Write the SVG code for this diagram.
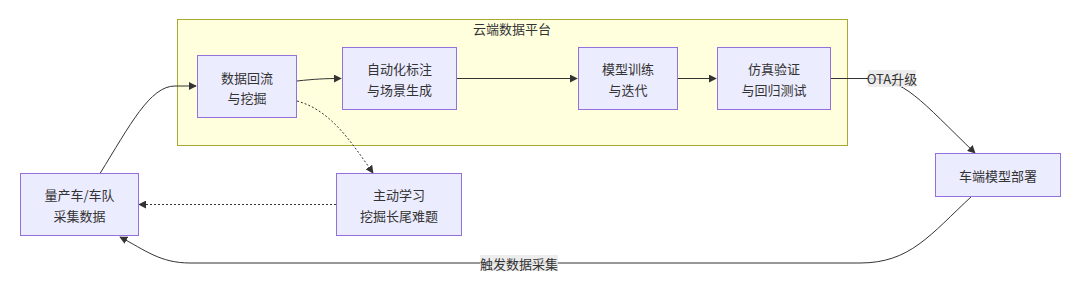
<svg xmlns="http://www.w3.org/2000/svg" width="1080" height="293" viewBox="0 0 1080 293">
<defs>
<style>
.node rect{fill:#ECECFF;stroke:#9370DB;stroke-width:1}
.cluster rect{fill:#FFFFDE;stroke:#AAAA33;stroke-width:1}
text{font-family:"Noto Sans CJK SC","Liberation Sans",sans-serif;font-size:13px;fill:#333;text-anchor:middle;dominant-baseline:central}
.edge{fill:none;stroke:#333;stroke-width:1}
.dot{stroke-dasharray:2,2}
.lbl{fill:#E8E8E8;fill-opacity:0.8}
</style>
<marker id="arr" viewBox="0 0 10 10" refX="9" refY="5" markerWidth="8" markerHeight="8" orient="auto" markerUnits="userSpaceOnUse">
<path d="M0,0 L10,5 L0,10 z" fill="#333"/>
</marker>
</defs>
<rect width="1080" height="293" fill="#fff"/>
<g id="cloud" class="cluster">
<rect x="177.5" y="19.5" width="670" height="126"/>
<text x="512" y="28">云端数据平台</text>
</g>
<g id="edges">
<path class="edge" d="M100,173.5 C130,125 150,86 175,86 L196,86" marker-end="url(#arr)"/>
<path class="edge" d="M297,81 C315,79 325,78.5 341,78.5" marker-end="url(#arr)"/>
<path class="edge" d="M456,78.5 L577,78.5" marker-end="url(#arr)"/>
<path class="edge" d="M677,78.5 L716,78.5" marker-end="url(#arr)"/>
<path class="edge" d="M830,78.5 L868,78.5 C905,78.5 920,100 975,153" marker-end="url(#arr)"/>
<path class="edge" d="M972,196 C930,235 910,263 860,263 L190,263 C160,263 145,250 120,237" marker-end="url(#arr)"/>
<path class="edge dot" d="M297,101 C330,110 350,140 373,173" marker-end="url(#arr)"/>
<path class="edge dot" d="M336,204.5 L139,204.5" marker-end="url(#arr)"/>
<rect class="lbl" x="868" y="70" width="48" height="17"/>
<text x="892" y="78.5">OTA升级</text>
<rect class="lbl" x="480" y="255" width="78" height="16"/>
<text x="519" y="263">触发数据采集</text>
</g>
<g id="n1" class="node">
<rect x="197.5" y="55.5" width="99" height="62"/>
<text x="247" y="77">数据回流</text>
<text x="247" y="97">与挖掘</text>
</g>
<g id="n2" class="node">
<rect x="342.5" y="47.5" width="114" height="62"/>
<text x="399.5" y="68">自动化标注</text>
<text x="399.5" y="89">与场景生成</text>
</g>
<g id="n3" class="node">
<rect x="578.5" y="47.5" width="99" height="62"/>
<text x="628" y="68">模型训练</text>
<text x="628" y="89">与迭代</text>
</g>
<g id="n4" class="node">
<rect x="717.5" y="47.5" width="113" height="62"/>
<text x="774" y="68">仿真验证</text>
<text x="774" y="89">与回归测试</text>
</g>
<g id="n5" class="node">
<rect x="935.5" y="153.5" width="125" height="43"/>
<text x="998" y="175">车端模型部署</text>
</g>
<g id="n6" class="node">
<rect x="20.5" y="173.5" width="118" height="62"/>
<text x="79.5" y="194">量产车/车队</text>
<text x="79.5" y="215">采集数据</text>
</g>
<g id="n7" class="node">
<rect x="336.5" y="173.5" width="125" height="62"/>
<text x="399" y="194">主动学习</text>
<text x="399" y="215">挖掘长尾难题</text>
</g>
</svg>
